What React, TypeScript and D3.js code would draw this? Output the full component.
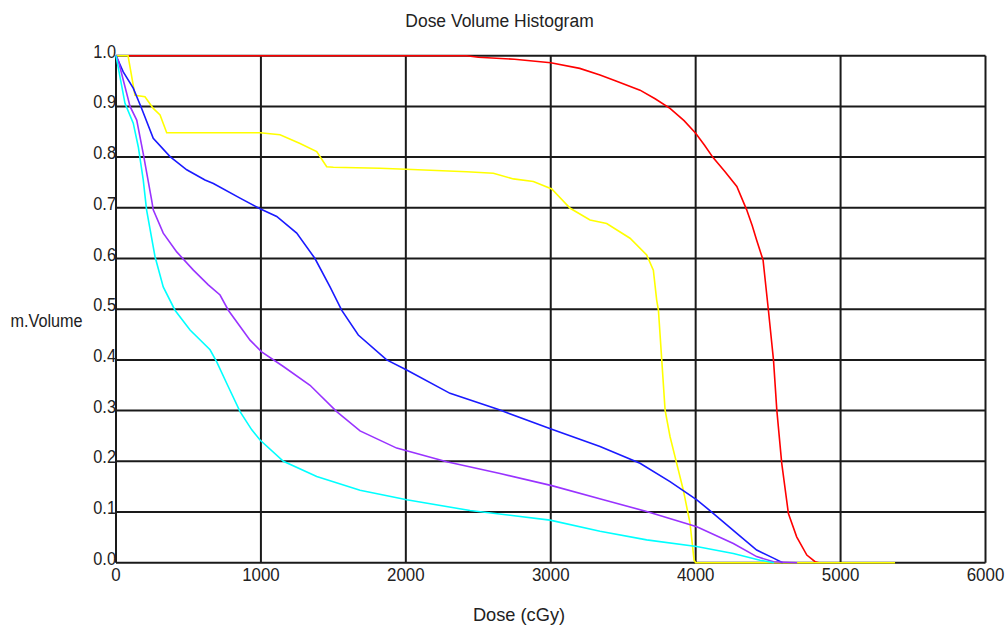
import * as d3 from "d3";

// dose (cGy) / volume fraction pairs
const redCurve: [number, number][] = [
  [83, 1], [1000, 1], [2000, 1], [2420, 1], [2500, 0.997], [2750, 0.993],
  [3000, 0.986], [3200, 0.975], [3340, 0.962], [3450, 0.95], [3616, 0.932],
  [3720, 0.915], [3823, 0.896], [3920, 0.872], [4000, 0.847], [4060, 0.824],
  [4120, 0.799], [4200, 0.772], [4284, 0.742], [4352, 0.696], [4390, 0.665],
  [4421, 0.636], [4465, 0.597], [4502, 0.498], [4537, 0.4], [4560, 0.301],
  [4594, 0.196], [4640, 0.097], [4697, 0.051], [4767, 0.015], [4824, 0.002],
  [4850, 0],
];

const yellowCurve: [number, number][] = [
  [0, 1], [83, 1], [131, 0.922], [200, 0.919], [257, 0.896], [304, 0.883],
  [350, 0.848], [700, 0.848], [994, 0.848], [1132, 0.844], [1270, 0.827],
  [1385, 0.811], [1454, 0.781], [1500, 0.78], [1822, 0.778], [2001, 0.776],
  [2420, 0.771], [2604, 0.768], [2742, 0.757], [2880, 0.752], [3007, 0.737],
  [3134, 0.699], [3271, 0.676], [3386, 0.669], [3547, 0.64], [3662, 0.607],
  [3708, 0.577], [3731, 0.518], [3743, 0.498], [3766, 0.4], [3789, 0.301],
  [3823, 0.249], [3869, 0.196], [3915, 0.143], [3961, 0.078], [3989, 0.005],
  [4000, 0], [5376, 0],
];

const blueCurve: [number, number][] = [
  [0, 1], [50, 0.968], [119, 0.936], [177, 0.896], [257, 0.837], [373, 0.801],
  [488, 0.775], [614, 0.755], [672, 0.748], [856, 0.719], [994, 0.698],
  [1109, 0.683], [1247, 0.65], [1373, 0.6], [1477, 0.544], [1557, 0.498],
  [1672, 0.449], [1868, 0.4], [2006, 0.38], [2305, 0.334], [2650, 0.301],
  [3007, 0.263], [3340, 0.229], [3616, 0.196], [3823, 0.16], [4008, 0.124],
  [4123, 0.097], [4284, 0.058], [4421, 0.025], [4537, 0.009], [4600, 0],
];

const purpleCurve: [number, number][] = [
  [0, 1], [16, 0.99], [97, 0.9], [143, 0.873], [188, 0.807], [246, 0.715],
  [257, 0.696], [326, 0.65], [419, 0.613], [534, 0.577], [637, 0.548],
  [718, 0.528], [775, 0.498], [925, 0.439], [1005, 0.416], [1155, 0.387],
  [1339, 0.35], [1523, 0.298], [1684, 0.26], [1937, 0.226], [2282, 0.199],
  [2650, 0.176], [3007, 0.152], [3363, 0.124], [3662, 0.101], [4008, 0.071],
  [4260, 0.038], [4421, 0.012], [4537, 0.002], [4700, 0],
];

const cyanCurve: [number, number][] = [
  [0, 1], [62, 0.906], [119, 0.867], [154, 0.82], [188, 0.755], [211, 0.696],
  [269, 0.604], [326, 0.544], [407, 0.498], [511, 0.459], [649, 0.42],
  [695, 0.396], [775, 0.347], [856, 0.298], [937, 0.262], [994, 0.242],
  [1155, 0.2], [1385, 0.17], [1684, 0.143], [2006, 0.124], [2443, 0.103],
  [2995, 0.084], [3340, 0.062], [3662, 0.045], [4006, 0.032], [4260, 0.018],
  [4444, 0.005], [4540, 0],
];

const series = [
  { name: "red", color: "#ff0000", data: redCurve },
  { name: "yellow", color: "#ffff00", data: yellowCurve },
  { name: "blue", color: "#1a1aff", data: blueCurve },
  { name: "purple", color: "#9933ff", data: purpleCurve },
  { name: "cyan", color: "#00ffff", data: cyanCurve },
];

const doseTicks = [0, 1000, 2000, 3000, 4000, 5000, 6000];
const volumeTicks = [0, 0.1, 0.2, 0.3, 0.4, 0.5, 0.6, 0.7, 0.8, 0.9, 1.0];

const W = 1007;
const H = 628;
const FONT = "'Liberation Sans', Arial, sans-serif";

export default function App() {
  const x = d3.scaleLinear().domain([0, 6000]).range([116, 985.5]);
  const y = d3.scaleLinear().domain([0, 1]).range([562.7, 55.7]);

  const line = d3
    .line<[number, number]>()
    .x((d) => x(d[0]))
    .y((d) => y(d[1]))
    .curve(d3.curveLinear);

  return (
    <svg
      width={W}
      height={H}
      style={{ position: "absolute", left: 0, top: 0, background: "#fff" }}
    >
      <rect width={W} height={H} fill="#fff" />

      {/* grid */}
      <g stroke="#1a1a1a" strokeWidth={2}>
        {volumeTicks.map((t) => (
          <line key={"h" + t} x1={x(0)} x2={x(6000)} y1={y(t)} y2={y(t)} />
        ))}
        {doseTicks.map((t) => (
          <line key={"v" + t} x1={x(t)} x2={x(t)} y1={y(0)} y2={y(1)} />
        ))}
      </g>

      {/* curves */}
      <g fill="none" strokeWidth={1.6}>
        {series.map((s) => (
          <path key={s.name} d={line(s.data) || ""} stroke={s.color} />
        ))}
      </g>

      {/* tick labels */}
      <g fontFamily={FONT} fontSize={19} fill="#222">
        {volumeTicks.map((t) => (
          <text
            key={"yl" + t}
            transform={`translate(${x(0)},${y(t) + 2}) scale(0.86,1)`}
            textAnchor="end"
          >
            {t.toFixed(1)}
          </text>
        ))}
        {doseTicks.map((t) => (
          <text
            key={"xl" + t}
            transform={`translate(${x(t)},${y(0) + 18}) scale(0.89,1)`}
            textAnchor="middle"
          >
            {t}
          </text>
        ))}
      </g>

      {/* titles */}
      <g fontFamily={FONT} fontSize={19} fill="#222">
        <text transform="translate(499.5,27) scale(0.92,1)" textAnchor="middle">
          Dose Volume Histogram
        </text>
        <text transform="translate(46.5,327) scale(0.855,1)" textAnchor="middle">
          m.Volume
        </text>
        <text transform="translate(519,621) scale(0.96,1)" textAnchor="middle">
          Dose (cGy)
        </text>
      </g>
    </svg>
  );
}
